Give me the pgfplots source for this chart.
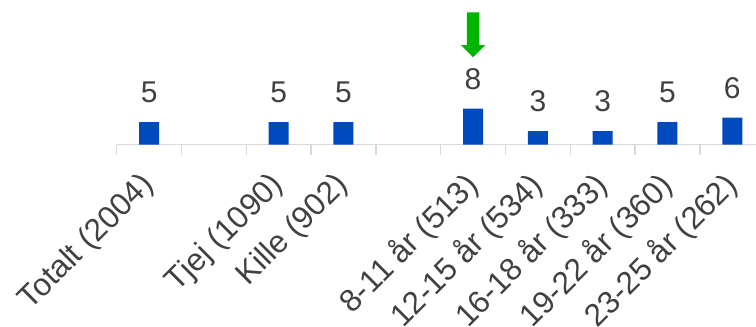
\documentclass[border=0pt]{standalone}
\usepackage{fontspec}
\setmainfont{Liberation Sans}
\usepackage{pgfplots}
\pgfplotsset{compat=1.18}
\definecolor{barblue}{RGB}{0,73,190}
\definecolor{txtgray}{RGB}{64,64,64}
\definecolor{axgray}{RGB}{217,217,217}
\definecolor{arrowgreen}{RGB}{0,180,0}
\begin{document}
\begin{tikzpicture}
\begin{axis}[
  at={(0,0)}, anchor=south west,
  scale only axis,
  width=639.3bp, height=144.5bp,
  xmin=-0.5, xmax=9.366,
  ymin=0, ymax=32.11,
  clip=false,
  axis x line=bottom,
  axis y line=none,
  x axis line style={-, draw=axgray, line width=1.3bp},
  ybar, bar width=20bp,
  xtick={0,...,9},
  xticklabels={{Totalt (2004)},{},{Tjej (1090)},{Kille (902)},{},{8-11 år (513)},{12-15 år (534)},{16-18 år (333)},{19-22 år (360)},{23-25 år (262)}},
  major tick length=0pt,
  minor xtick={-0.5,0.5,...,8.5},
  minor tick length=10bp,
  tick align=outside,
  minor tick style={draw=axgray, line width=1.3bp},
  xticklabel style={font=\fontsize{31.5bp}{38bp}\selectfont, text=txtgray, yshift=-36bp, rotate=45, anchor=east, inner sep=0pt},
  /pgf/number format/assume math mode=true,
  nodes near coords,
  every node near coord/.append style={font=\fontsize{30bp}{36bp}\selectfont, text=txtgray, anchor=south, inner sep=0pt, yshift=18.7bp},
]
\addplot[fill=barblue, draw=none] coordinates {(0,5) (2,5) (3,5) (5,8) (6,3) (7,3) (8,5) (9,6)};
\fill[arrowgreen] ([xshift=-6.2bp]axis cs:5,29.38) -- ([xshift=6.2bp]axis cs:5,29.38) -- ([xshift=6.2bp]axis cs:5,22.1) -- ([xshift=12.2bp]axis cs:5,22.1) -- (axis cs:5,19.38) -- ([xshift=-12.2bp]axis cs:5,22.1) -- ([xshift=-6.2bp]axis cs:5,22.1) -- cycle;
\end{axis}
\pgfresetboundingbox
\path[use as bounding box] (-116.7bp,-182.5bp) rectangle (639.3bp,144.5bp);
\end{tikzpicture}
\end{document}
